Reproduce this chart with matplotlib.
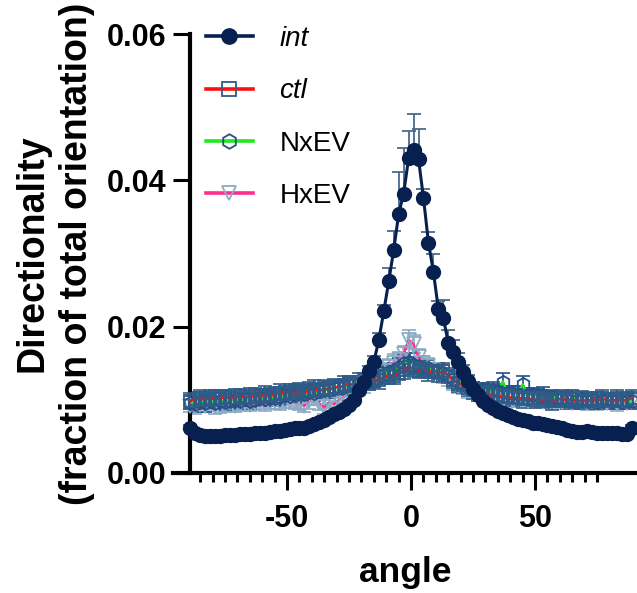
import matplotlib
matplotlib.use("Agg")
import matplotlib.pyplot as plt
from matplotlib.ticker import FixedLocator, FuncFormatter

plt.rcParams['font.family'] = ['Liberation Sans', 'DejaVu Sans']
plt.rcParams['axes.unicode_minus'] = False

# bin centres (deg)
angle = list(range(-89, 90, 2))

int_mean = [0.0062, 0.0054, 0.0052, 0.0051, 0.0051, 0.0050, 0.0051, 0.0052, 0.0052, 0.0052,
            0.0053, 0.0053, 0.0053, 0.0054, 0.0054, 0.0055, 0.0056, 0.0057, 0.0058, 0.0059,
            0.0060, 0.0061, 0.0062, 0.0062, 0.0064, 0.0067, 0.0070, 0.0073, 0.0077, 0.0080,
            0.0083, 0.0088, 0.0093, 0.0100, 0.0113, 0.0125, 0.0139, 0.0152, 0.0182, 0.0221,
            0.0262, 0.0305, 0.0354, 0.0382, 0.0430, 0.0442, 0.0429, 0.0376, 0.0315, 0.0275,
            0.0224, 0.0212, 0.0178, 0.0165, 0.0152, 0.0138, 0.0126, 0.0115, 0.0106, 0.0098,
            0.0093, 0.0089, 0.0085, 0.0082, 0.0079, 0.0076, 0.0074, 0.0072, 0.0071, 0.0069,
            0.0068, 0.0067, 0.0066, 0.0064, 0.0063, 0.0061, 0.0059, 0.0057, 0.0056, 0.0056,
            0.0057, 0.0056, 0.0055, 0.0055, 0.0055, 0.0055, 0.0054, 0.0053, 0.0053, 0.0062]
int_err = [0.0004, 0.0004, 0.0004, 0.0004, 0.0004, 0.0004, 0.0004, 0.0004, 0.0004, 0.0004,
           0.0004, 0.0004, 0.0004, 0.0004, 0.0004, 0.0004, 0.0004, 0.0004, 0.0004, 0.0004,
           0.0004, 0.0004, 0.0004, 0.0004, 0.0004, 0.0004, 0.0005, 0.0005, 0.0005, 0.0005,
           0.0005, 0.0005, 0.0006, 0.0006, 0.0006, 0.0007, 0.0007, 0.0008, 0.0010, 0.0008,
           0.0018, 0.0026, 0.0058, 0.0062, 0.0037, 0.0048, 0.0041, 0.0012, 0.0014, 0.0025,
           0.0011, 0.0025, 0.0018, 0.0017, 0.0012, 0.0009, 0.0008, 0.0007, 0.0006, 0.0006,
           0.0005, 0.0005, 0.0005, 0.0005, 0.0005, 0.0004, 0.0004, 0.0004, 0.0004, 0.0004,
           0.0004, 0.0004, 0.0004, 0.0004, 0.0004, 0.0004, 0.0004, 0.0004, 0.0004, 0.0004,
           0.0004, 0.0004, 0.0004, 0.0004, 0.0004, 0.0004, 0.0004, 0.0004, 0.0004, 0.0004]

ctl_mean = [0.0099, 0.0101, 0.0102, 0.0100, 0.0103, 0.0101, 0.0102, 0.0104, 0.0102, 0.0103,
            0.0105, 0.0103, 0.0104, 0.0106, 0.0104, 0.0107, 0.0105, 0.0108, 0.0110, 0.0108,
            0.0111, 0.0109, 0.0112, 0.0110, 0.0113, 0.0115, 0.0112, 0.0116, 0.0114, 0.0118,
            0.0117, 0.0120, 0.0122, 0.0119, 0.0124, 0.0126, 0.0123, 0.0128, 0.0127, 0.0131,
            0.0134, 0.0132, 0.0137, 0.0141, 0.0145, 0.0143, 0.0140, 0.0142, 0.0138, 0.0140,
            0.0136, 0.0139, 0.0133, 0.0127, 0.0123, 0.0120, 0.0116, 0.0113, 0.0110, 0.0111,
            0.0108, 0.0106, 0.0107, 0.0104, 0.0105, 0.0102, 0.0104, 0.0101, 0.0103, 0.0100,
            0.0102, 0.0099, 0.0101, 0.0098, 0.0100, 0.0102, 0.0099, 0.0101, 0.0097, 0.0100,
            0.0098, 0.0101, 0.0099, 0.0102, 0.0100, 0.0098, 0.0101, 0.0099, 0.0100, 0.0102]
ctl_err = [0.0011, 0.0010, 0.0012, 0.0011, 0.0010, 0.0012, 0.0011, 0.0010, 0.0011, 0.0012,
           0.0010, 0.0011, 0.0012, 0.0010, 0.0011, 0.0012, 0.0011, 0.0010, 0.0012, 0.0011,
           0.0010, 0.0012, 0.0011, 0.0010, 0.0011, 0.0012, 0.0010, 0.0011, 0.0012, 0.0011,
           0.0010, 0.0012, 0.0011, 0.0010, 0.0012, 0.0011, 0.0010, 0.0011, 0.0012, 0.0010,
           0.0012, 0.0011, 0.0010, 0.0012, 0.0011, 0.0012, 0.0010, 0.0011, 0.0012, 0.0010,
           0.0011, 0.0012, 0.0010, 0.0011, 0.0012, 0.0010, 0.0011, 0.0012, 0.0011, 0.0010,
           0.0012, 0.0011, 0.0010, 0.0011, 0.0012, 0.0010, 0.0011, 0.0012, 0.0010, 0.0011,
           0.0012, 0.0010, 0.0011, 0.0012, 0.0010, 0.0011, 0.0012, 0.0011, 0.0010, 0.0012,
           0.0011, 0.0010, 0.0012, 0.0011, 0.0010, 0.0011, 0.0012, 0.0010, 0.0011, 0.0012]

nxev_mean = [0.0096, 0.0094, 0.0097, 0.0095, 0.0098, 0.0096, 0.0099, 0.0097, 0.0098, 0.0100,
             0.0099, 0.0101, 0.0098, 0.0100, 0.0102, 0.0101, 0.0103, 0.0102, 0.0104, 0.0106,
             0.0105, 0.0107, 0.0110, 0.0108, 0.0111, 0.0109, 0.0112, 0.0114, 0.0113, 0.0116,
             0.0118, 0.0117, 0.0120, 0.0123, 0.0121, 0.0125, 0.0128, 0.0126, 0.0132, 0.0135,
             0.0138, 0.0141, 0.0145, 0.0150, 0.0152, 0.0148, 0.0146, 0.0143, 0.0144, 0.0140,
             0.0141, 0.0137, 0.0132, 0.0129, 0.0124, 0.0121, 0.0118, 0.0115, 0.0112, 0.0114,
             0.0111, 0.0113, 0.0112, 0.0125, 0.0110, 0.0109, 0.0108, 0.0121, 0.0106, 0.0107,
             0.0105, 0.0106, 0.0103, 0.0104, 0.0101, 0.0103, 0.0100, 0.0102, 0.0099, 0.0101,
             0.0098, 0.0100, 0.0097, 0.0099, 0.0101, 0.0098, 0.0100, 0.0097, 0.0099, 0.0098]
nxev_err = [0.0009, 0.0010, 0.0009, 0.0011, 0.0010, 0.0009, 0.0010, 0.0011, 0.0009, 0.0010,
            0.0011, 0.0009, 0.0010, 0.0009, 0.0011, 0.0010, 0.0009, 0.0010, 0.0011, 0.0009,
            0.0010, 0.0011, 0.0009, 0.0010, 0.0009, 0.0011, 0.0010, 0.0009, 0.0010, 0.0011,
            0.0009, 0.0010, 0.0011, 0.0009, 0.0010, 0.0011, 0.0010, 0.0009, 0.0011, 0.0010,
            0.0011, 0.0010, 0.0012, 0.0011, 0.0012, 0.0011, 0.0010, 0.0011, 0.0010, 0.0009,
            0.0010, 0.0011, 0.0009, 0.0010, 0.0011, 0.0010, 0.0009, 0.0010, 0.0011, 0.0009,
            0.0010, 0.0011, 0.0010, 0.0012, 0.0009, 0.0010, 0.0011, 0.0012, 0.0010, 0.0009,
            0.0010, 0.0011, 0.0009, 0.0010, 0.0011, 0.0009, 0.0010, 0.0011, 0.0009, 0.0010,
            0.0011, 0.0009, 0.0010, 0.0011, 0.0009, 0.0010, 0.0011, 0.0009, 0.0010, 0.0011]

hxev_mean = [0.0092, 0.0090, 0.0093, 0.0091, 0.0094, 0.0092, 0.0090, 0.0093, 0.0095, 0.0092,
             0.0094, 0.0096, 0.0093, 0.0095, 0.0097, 0.0094, 0.0096, 0.0098, 0.0095, 0.0097,
             0.0099, 0.0096, 0.0094, 0.0092, 0.0098, 0.0101, 0.0095, 0.0090, 0.0097, 0.0094,
             0.0100, 0.0104, 0.0108, 0.0112, 0.0115, 0.0120, 0.0124, 0.0128, 0.0133, 0.0139,
             0.0145, 0.0151, 0.0155, 0.0162, 0.0182, 0.0176, 0.0158, 0.0150, 0.0146, 0.0141,
             0.0137, 0.0133, 0.0128, 0.0124, 0.0119, 0.0116, 0.0112, 0.0110, 0.0107, 0.0105,
             0.0104, 0.0102, 0.0103, 0.0100, 0.0102, 0.0099, 0.0101, 0.0100, 0.0098, 0.0100,
             0.0099, 0.0097, 0.0099, 0.0098, 0.0100, 0.0097, 0.0099, 0.0096, 0.0098, 0.0097,
             0.0096, 0.0098, 0.0095, 0.0097, 0.0096, 0.0098, 0.0095, 0.0097, 0.0096, 0.0097]
hxev_err = [0.0008, 0.0009, 0.0010, 0.0008, 0.0009, 0.0011, 0.0008, 0.0009, 0.0010, 0.0008,
            0.0009, 0.0010, 0.0008, 0.0009, 0.0010, 0.0009, 0.0008, 0.0010, 0.0009, 0.0008,
            0.0010, 0.0009, 0.0008, 0.0009, 0.0010, 0.0008, 0.0009, 0.0010, 0.0008, 0.0009,
            0.0010, 0.0009, 0.0008, 0.0010, 0.0009, 0.0010, 0.0011, 0.0010, 0.0011, 0.0012,
            0.0011, 0.0012, 0.0011, 0.0012, 0.0013, 0.0012, 0.0011, 0.0010, 0.0011, 0.0010,
            0.0009, 0.0010, 0.0009, 0.0010, 0.0009, 0.0008, 0.0010, 0.0009, 0.0008, 0.0009,
            0.0010, 0.0008, 0.0009, 0.0010, 0.0008, 0.0009, 0.0010, 0.0009, 0.0008, 0.0009,
            0.0010, 0.0008, 0.0009, 0.0010, 0.0008, 0.0009, 0.0010, 0.0009, 0.0008, 0.0009,
            0.0010, 0.0008, 0.0009, 0.0010, 0.0009, 0.0008, 0.0010, 0.0009, 0.0008, 0.0009]

navy = '#082050'

fig = plt.figure(figsize=(6.37, 5.93), dpi=100)
ax = fig.add_axes([173 / 637, 120 / 593, 464 / 637, 439 / 593])

# error bars of the control-like series first, so int sits on top
ax.errorbar(angle, hxev_mean, yerr=hxev_err, fmt='none', ecolor='#8cabc4',
            elinewidth=1.2, capsize=5, capthick=1.2, zorder=2)
ax.errorbar(angle, nxev_mean, yerr=nxev_err, fmt='none', ecolor='#244f88',
            elinewidth=1.2, capsize=5, capthick=1.2, zorder=2)
ax.errorbar(angle, ctl_mean, yerr=ctl_err, fmt='none', ecolor='#2f5b86',
            elinewidth=1.2, capsize=5, capthick=1.2, zorder=2)

ax.plot(angle, hxev_mean, color='#ff2e8c', lw=1.8, marker='v', ms=9.5,
        mfc='none', mec='#8cabc4', mew=1.3, label='HxEV', zorder=3)
ax.plot(angle, nxev_mean, color='#22e822', lw=1.8, marker='h', ms=9.5,
        mfc='none', mec='#244f88', mew=1.3, label='NxEV', zorder=3)
ax.plot(angle, ctl_mean, color='#ff1010', lw=1.8, marker='s', ms=9,
        mfc='none', mec='#2f5b86', mew=1.3, label='ctl', zorder=3)

ax.errorbar(angle, int_mean, yerr=[[0] * len(int_err), int_err], fmt='none',
            ecolor='#4a6a8e', elinewidth=1.3, capsize=5, capthick=1.3, zorder=4)
ax.plot(angle, int_mean, color=navy, lw=2.2, marker='o', ms=10, mfc=navy,
        mec=navy, label='int', zorder=5)

ax.set_xlim(-96, 91.1)
ax.set_ylim(0, 0.06)
ax.spines['top'].set_visible(False)
ax.spines['right'].set_visible(False)
ax.spines['left'].set_position(('data', -89))
for s in ('left', 'bottom'):
    ax.spines[s].set_linewidth(3)
    ax.spines[s].set_capstyle('projecting')

ax.set_xticks([-50, 0, 50])
ax.xaxis.set_minor_locator(FixedLocator([v for v in range(-85, 80, 5) if v % 50 != 0]))
ax.set_yticks([0, 0.02, 0.04, 0.06])
ax.yaxis.set_major_formatter(FuncFormatter(lambda v, p: f'{v:.2f}'))
ax.tick_params(axis='both', which='major', length=12, width=2.2, labelsize=22, pad=5)
ax.tick_params(axis='x', which='major', pad=10)
ax.tick_params(axis='x', which='minor', length=6.5, width=2.2)
for lab in ax.get_xticklabels() + ax.get_yticklabels():
    lab.set_fontweight('bold')

ax.set_xlabel('angle', fontsize=25.5, fontweight='bold', labelpad=16)
ax.set_ylabel('Directionality\n(fraction of total orientation)', fontsize=27,
              fontweight='bold', labelpad=9, linespacing=1.3)

handles, labels = ax.get_legend_handles_labels()
order = [labels.index(n) for n in ('int', 'ctl', 'NxEV', 'HxEV')]
leg = ax.legend([handles[i] for i in order], [labels[i] for i in order],
                loc='upper left', bbox_to_anchor=(192 / 637, 1 - 12 / 593),
                bbox_transform=fig.transFigure, frameon=False, fontsize=20,
                handlelength=1.7, handletextpad=0.95, labelspacing=0.95,
                borderpad=0, markerscale=1.1)
for t in leg.get_texts():
    if t.get_text() in ('int', 'ctl'):
        t.set_fontstyle('italic')
for ln in leg.get_lines():
    ln.set_linewidth(2.6)

fig.savefig('out.png', dpi=100)
